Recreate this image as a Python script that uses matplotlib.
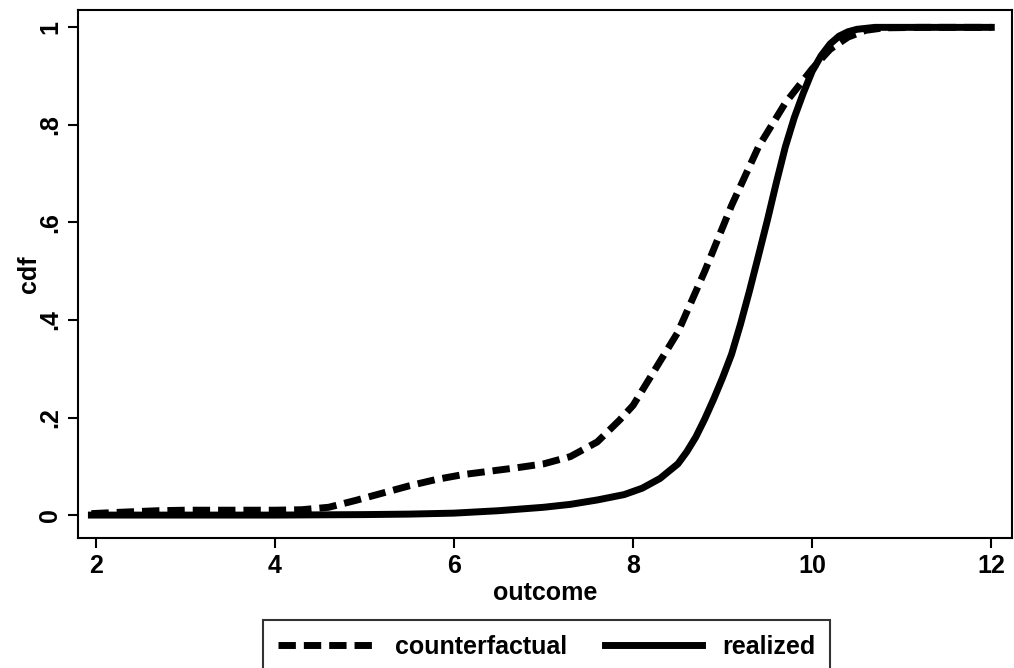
import matplotlib
matplotlib.use('Agg')
import matplotlib.pyplot as plt

plt.rcParams['font.family'] = ['Liberation Sans', 'DejaVu Sans']
plt.rcParams['font.weight'] = 'bold'

# values
cf_x = [1.95, 2.3, 2.7, 3.0, 3.5, 4.0, 4.3, 4.6, 4.9, 5.2, 5.5, 5.8, 6.1, 6.4,
        6.7, 7.0, 7.3, 7.6, 7.85, 8.0, 8.2, 8.5, 8.8, 9.1, 9.4, 9.7, 10.0,
        10.2, 10.4, 10.6, 10.8, 11.2, 12.0]
cf_y = [0.003, 0.006, 0.009, 0.01, 0.01, 0.01, 0.011, 0.016, 0.03, 0.045,
        0.06, 0.073, 0.083, 0.09, 0.097, 0.105, 0.12, 0.15, 0.195, 0.225,
        0.285, 0.375, 0.5, 0.635, 0.755, 0.845, 0.915, 0.955, 0.98, 0.994,
        0.999, 1.0, 1.0]

re_x = [1.95, 3.0, 4.0, 5.0, 5.5, 6.0, 6.5, 7.0, 7.3, 7.6, 7.9, 8.1, 8.3,
        8.5, 8.6, 8.7, 8.8, 8.9, 9.0, 9.1, 9.2, 9.3, 9.4, 9.5, 9.6, 9.7, 9.8,
        9.9, 10.0, 10.1, 10.2, 10.3, 10.4, 10.5, 10.7, 11.0, 12.0]
re_y = [0.0, 0.0, 0.0, 0.001, 0.002, 0.004, 0.009, 0.016, 0.022, 0.031,
        0.042, 0.055, 0.075, 0.105, 0.13, 0.16, 0.197, 0.238, 0.282, 0.33,
        0.392, 0.46, 0.532, 0.605, 0.682, 0.755, 0.815, 0.865, 0.91, 0.942,
        0.966, 0.982, 0.991, 0.996, 1.0, 1.0, 1.0]

x_ticks = [2, 4, 6, 8, 10, 12]
x_labels = ['2', '4', '6', '8', '10', '12']
y_ticks = [0, 0.2, 0.4, 0.6, 0.8, 1]
y_labels = ['0', '.2', '.4', '.6', '.8', '1']

fig = plt.figure(figsize=(10.14, 6.68), dpi=100)
ax = fig.add_axes([0.0769, 0.1946, 0.921, 0.790])

ax.plot(cf_x, cf_y, color='black', lw=5, linestyle=(0, (2.5, 1.15)),
        dash_capstyle='butt', dash_joinstyle='round', label='counterfactual')
ax.plot(re_x, re_y, color='black', lw=5, solid_joinstyle='round',
        label='realized')

ax.set_xlim(1.8, 12.23)
ax.set_ylim(-0.047, 1.035)
ax.set_xticks(x_ticks)
ax.set_xticklabels(x_labels)
ax.set_yticks(y_ticks)
ax.set_yticklabels(y_labels, rotation=90, va='center')
ax.tick_params(direction='out', length=7.5, width=1.5, labelsize=18, pad=4)
for s in ax.spines.values():
    s.set_linewidth(1.5)

ax.set_xlabel('outcome', fontsize=18, fontweight='bold', labelpad=2)
ax.set_ylabel('cdf', fontsize=18, fontweight='bold', labelpad=-2)

leg = fig.legend(loc='upper center', bbox_to_anchor=(0.539, 0.091), ncol=2,
                 prop={'size': 18, 'weight': 'bold'}, frameon=True,
                 fancybox=False, edgecolor='black', handlelength=3.9,
                 handletextpad=0.8, columnspacing=1.5, borderpad=0.6)
leg.get_frame().set_linewidth(1.5)

fig.savefig('out.png', dpi=100)
